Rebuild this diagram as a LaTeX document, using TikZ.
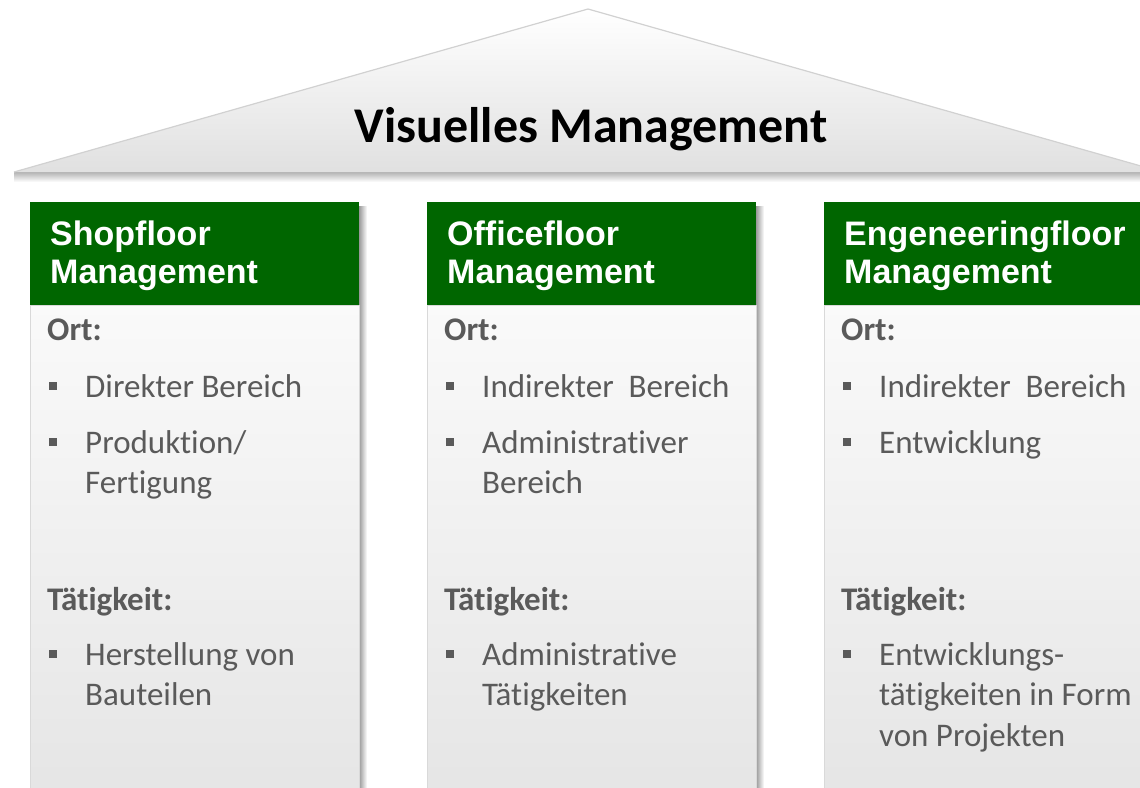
\documentclass[tikz,border=0pt]{standalone}
\usepackage{fontspec}
\setmainfont{Carlito}[RawFeature=-liga]
\newfontfamily\headfont{Liberation Sans}
\usetikzlibrary{positioning}
\definecolor{floorgreen}{RGB}{0,102,0}
\definecolor{txtgray}{RGB}{90,90,90}
\tikzset{
  title/.style={anchor=base,inner sep=0pt,text=black,font=\bfseries\fontsize{50}{58}\selectfont},
  head/.style={anchor=base west,inner sep=0pt,text=white,font=\headfont\bfseries\fontsize{34}{40}\selectfont},
  topic/.style={anchor=base west,inner sep=0pt,text=txtgray,font=\bfseries\fontsize{33}{40}\selectfont},
  item/.style={anchor=base west,inner sep=0pt,text=txtgray,font=\fontsize{33}{40}\selectfont},
  bul/.style={fill=txtgray,minimum size=8pt,inner sep=0pt},
}
\begin{document}
\begin{tikzpicture}[x=1pt,y=-1pt]
 \useasboundingbox (0,0) rectangle (1140,787);
 \begin{scope}
   \clip (0,0) rectangle (1140,787);
   % roof
   \shade[top color=black!30,bottom color=white] (14,172) rectangle (1162,182);
   \shade[top color=white,bottom color=white!88!black]
        (14,172) -- (588,9) -- (1162,172) -- cycle;
   \draw[black!18,line width=1.2pt] (14,172) -- (588,9) -- (1162,172);
   % pillars
   \foreach \x in {30,427,824}{
     \shade[left color=black!40,right color=white] (\x+329,206) rectangle (\x+337,790);
     \shade[top color=white!98!black,bottom color=white!90!black,draw=black!15]
          (\x,305) rectangle (\x+329,790);
     \fill[floorgreen] (\x,202) rectangle (\x+329,305);
   }
 \end{scope}
 \node[title] (vm) at (591,142) {Visuelles Management};
 % Shopfloor
 \node[head] (h1a) at (50,245) {Shopfloor};
 \node[head] (h1b) at (50,283) {Management};
 \node[topic] (o1) at (47,340) {Ort:};
 \node[item] (i1a) at (85,397) {Direkter Bereich};
 \node[item] (i1b) at (85,453) {Produktion/};
 \node[item] (i1c) at (85,493) {Fertigung};
 \node[topic] (t1) at (47,610) {Tätigkeit:};
 \node[item] (i1d) at (85,665) {Herstellung von};
 \node[item] (i1e) at (85,705) {Bauteilen};
 \node[bul] (b1a) at (53,386) {};
 \node[bul] (b1b) at (53,442) {};
 \node[bul] (b1c) at (53,654) {};
 % Officefloor
 \node[head] (h2a) at (447,245) {Officefloor};
 \node[head] (h2b) at (447,283) {Management};
 \node[topic] (o2) at (444,340) {Ort:};
 \node[item] (i2a) at (482,397) {Indirekter\ \ Bereich};
 \node[item] (i2b) at (482,453) {Administrativer};
 \node[item] (i2c) at (482,493) {Bereich};
 \node[topic] (t2) at (444,610) {Tätigkeit:};
 \node[item] (i2d) at (482,665) {Administrative};
 \node[item] (i2e) at (482,705) {Tätigkeiten};
 \node[bul] (b2a) at (450,386) {};
 \node[bul] (b2b) at (450,442) {};
 \node[bul] (b2c) at (450,654) {};
 % Engeneeringfloor
 \node[head] (h3a) at (844,245) {Engeneeringfloor};
 \node[head] (h3b) at (844,283) {Management};
 \node[topic] (o3) at (841,340) {Ort:};
 \node[item] (i3a) at (879,397) {Indirekter\ \ Bereich};
 \node[item] (i3b) at (879,453) {Entwicklung};
 \node[topic] (t3) at (841,610) {Tätigkeit:};
 \node[item] (i3c) at (879,665) {Entwicklungs-};
 \node[item] (i3d) at (879,705) {tätigkeiten in Form};
 \node[item] (i3e) at (879,746) {von Projekten};
 \node[bul] (b3a) at (847,386) {};
 \node[bul] (b3b) at (847,442) {};
 \node[bul] (b3c) at (847,654) {};
\end{tikzpicture}
\end{document}
